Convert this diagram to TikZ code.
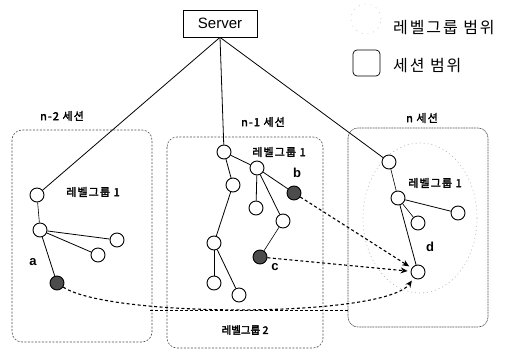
\documentclass[tikz,border=0pt]{standalone}
\usepackage{fontspec}
\setmainfont{Liberation Sans}
\newfontfamily\kr{Noto Sans CJK KR}[AutoFakeBold=2.5]
\usetikzlibrary{arrows.meta}
\begin{document}
\begin{tikzpicture}[x=1pt,y=-1pt,
  nd/.style={circle,draw,line width=0.9pt,minimum size=14pt,inner sep=0pt,fill=white},
  fnd/.style={nd,fill=black!70},
  edge/.style={line width=0.8pt},
  sess/.style={draw=black!70,line width=0.6pt,dash pattern=on 2pt off 1.5pt,rounded corners=10pt},
  sessn/.style={draw=black!70,line width=0.6pt,dash pattern=on 1pt off 0.6pt,rounded corners=10pt},
  lgrp/.style={draw=black!30,line width=0.6pt,dash pattern=on 1pt off 3pt},
  lgline/.style={line width=0.8pt,dash pattern=on 3pt off 2pt},
  arr/.style={line width=1.1pt,dash pattern=on 3pt off 2.5pt,-{Stealth[length=7pt,width=6pt]},shorten >=3pt},
  lbl/.style={font=\kr\bfseries\addfontfeatures{LetterSpace=10}\fontsize{11}{13}\selectfont,inner sep=0pt},
  lbltwo/.style={font=\kr\bfseries\fontsize{10.5}{12}\selectfont,inner sep=0pt},
  let/.style={font=\bfseries\fontsize{13}{15}\selectfont,inner sep=0pt},
  leg/.style={font=\kr\addfontfeatures{LetterSpace=12}\fontsize{16}{18}\selectfont,inner sep=0pt,anchor=west}]
\useasboundingbox (0,0) rectangle (505,351);

% session boxes
\draw[sess] (12,130) rectangle (152,342);
\draw[sess] (167,137) rectangle (323,348);
\draw[sessn] (348,128) rectangle (488,327);

% level group ranges
\draw[lgrp] (420,218) ellipse [x radius=57, y radius=75];
\draw[lgline] (150,310) -- (348,310);

% legend
\node[circle,draw=black!20,line width=0.6pt,dash pattern=on 1pt off 5pt,minimum size=30pt] (lgsym) at (366,19) {};
\node[leg] (lg1) at (393,28) {레벨그룹 범위};
\node[draw,line width=0.7pt,rounded corners=4pt,minimum width=27pt,minimum height=26pt] (lgbox) at (366.5,63) {};
\node[leg] (lg2) at (393,66) {세션 범위};

% server
\node[draw,line width=0.7pt,minimum width=74pt,minimum height=27pt,inner sep=0pt,font=\fontsize{15}{18}\selectfont] (srv) at (220,23.5) {Server};

% labels
\node[lbl] (s2) at (62,116) {n-2 세션};
\node[lbl] (s1) at (263,122) {n-1 세션};
\node[lbl] (s0) at (422,118) {n 세션};
\node[lbl] (g21) at (93,192) {레벨그룹 1};
\node[lbl] (g11) at (279,152) {레벨그룹 1};
\node[lbl] (g01) at (435,183) {레벨그룹 1};
\node[lbltwo] (g12) at (245,330) {레벨그룹 2};
\node[let] (la) at (33,262) {a};
\node[let] (lb) at (297,173) {b};
\node[let] (lc) at (275,267) {c};
\node[let] (ld) at (430,247) {d};

% n-2 nodes
\node[nd] (A1) at (37,195) {};
\node[nd] (A2) at (40,230) {};
\node[nd] (A3) at (117,240) {};
\node[nd] (A4) at (98,255) {};
\node[fnd] (Na) at (57,283) {};

% n-1 nodes
\node[nd] (B1) at (224,152) {};
\node[nd] (B2) at (257,168) {};
\node[nd] (B3) at (233,185) {};
\node[nd] (B4) at (256,208) {};
\node[nd] (B5) at (283,221) {};
\node[fnd] (Nb) at (294,193) {};
\node[nd] (B6) at (214,243) {};
\node[fnd] (Nc) at (260,257) {};
\node[nd] (B7) at (214,283) {};
\node[nd] (B8) at (239,295) {};

% n nodes
\node[nd] (C1) at (389,162) {};
\node[nd] (C2) at (398,198) {};
\node[nd] (C3) at (458,213) {};
\node[nd] (C4) at (418,223) {};
\node[nd] (Nd) at (418,272) {};

% server links
\draw[edge] (srv.south) -- (A1);
\draw[edge] (srv.south) -- (B1);
\draw[edge] (srv.south) -- (C1);

% tree edges
\draw[edge,line width=0.6pt] (A1) -- (A2);
\draw[edge] (A2) -- (A3);
\draw[edge] (A2) -- (A4);
\draw[edge] (A2) -- (Na);
\draw[edge] (B1) -- (B2);
\draw[edge] (B1) -- (B3);
\draw[edge] (B3) -- (B6);
\draw[edge] (B6) -- (B7);
\draw[edge] (B6) -- (B8);
\draw[edge] (B2) -- (B4);
\draw[edge] (B2) -- (B5);
\draw[edge] (B2) -- (Nb);
\draw[edge,line width=0.6pt] (B5) -- (Nc);
\draw[edge,line width=0.6pt] (C1) -- (C2);
\draw[edge] (C2) -- (C3);
\draw[edge,line width=0.6pt] (C2) -- (C4);
\draw[edge] (C2) -- (Nd);

% migration arrows
\draw[arr] (Nb) -- (Nd);
\draw[arr] (Nc) -- (Nd);
\draw[arr] (Na) .. controls (110,318) and (385,318) .. (Nd);
\end{tikzpicture}
\end{document}
